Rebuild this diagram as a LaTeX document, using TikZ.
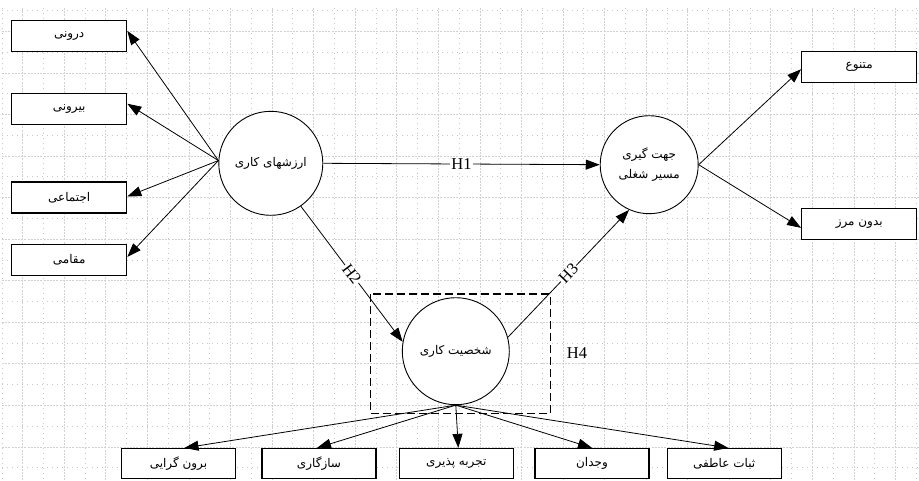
\documentclass[tikz,border=0pt]{standalone}
\usepackage{fontspec}
\setmainfont{Liberation Serif}
\newfontfamily\fa[Script=Arabic]{DejaVu Sans}
\TeXXeTstate=1
\usetikzlibrary{arrows.meta,calc}
\tikzset{
  gmaj/.style={draw=black!18, line width=0.7pt, dash pattern=on 2pt off 1.2pt},
  gmin/.style={draw=black!22, line width=0.7pt, dash pattern=on 1pt off 4pt},
  box/.style={draw, line width=1.2pt, fill=white, minimum width=115pt, minimum height=31pt, inner sep=0pt, font=\fa\fontsize{12}{14}\selectfont},
  bbox/.style={box, minimum width=114pt, minimum height=30pt},
  circ/.style={draw, circle, line width=0.9pt, fill=white, inner sep=0pt, align=center, font=\fa\fontsize{12}{20}\selectfont},
  arr/.style={-{Triangle[length=14pt,width=10pt]}, line width=0.8pt},
  hlab/.style={fill=white, inner sep=1pt, font=\fontsize{16.5}{18}\selectfont},
  hbox/.style={draw, line width=1.2pt, dash pattern=on 8pt off 4pt},
}
\begin{document}
\begin{tikzpicture}[x=1pt,y=-1pt]
\useasboundingbox (0,0) rectangle (919,480);
% grid
\foreach \k in {0,...,21} \draw[gmaj] ({22.7+41.56*\k},8) -- ({22.7+41.56*\k},480);
\foreach \k in {0,...,22} \draw[gmin] ({1.9+41.56*\k},8) -- ({1.9+41.56*\k},480);
\foreach \k in {0,...,10} \draw[gmaj] (2,{31.3+41.56*\k}) -- (919,{31.3+41.56*\k});
\foreach \k in {0,...,11} \draw[gmin] (2,{10.5+41.56*\k}) -- (919,{10.5+41.56*\k});
% dashed H4 box
\draw[hbox] (370.7,294) rectangle (550.7,413.3);
% boxes
\node[box] (b1) at (69.2,36) {\beginR درونی\endR};
\node[box] (b2) at (69.2,108.8) {\beginR بیرونی\endR};
\node[box] (b3) at (69.2,197.5) {\beginR اجتماعی\endR};
\node[box] (b4) at (69.2,260) {\beginR مقامی\endR};
\node[box] (r1) at (859.2,67.2) {\beginR متنوع\endR};
\node[box] (r2) at (859.2,223.8) {\beginR بدون مرز\endR};
\node[bbox] (d1) at (178.5,463.5) {\beginR برون گرایی\endR};
\node[bbox] (d2) at (319,463.5) {\beginR سازگاری\endR};
\node[bbox] (d3) at (456.3,463.5) {\beginR تجربه پذیری\endR};
\node[bbox] (d4) at (592,463.5) {\beginR وجدان\endR};
\node[bbox] (d5) at (724.2,463.5) {\beginR ثبات عاطفی\endR};
% circles
\node[circ, minimum size=104pt] (c1) at (270.8,163.3) {\beginR ارزشهای کاری\endR};
\node[circ, minimum size=98pt] (c2) at (649.2,164.7) {\beginR جهت گیری\endR\\\beginR مسیر شغلی\endR};
\node[circ, minimum size=107pt] (c3) at (455.8,351.2) {\beginR شخصیت کاری\endR};
\node[font=\fontsize{16.5}{18}\selectfont] (h4) at (577,352.7) {H4};
% arrows
\draw[arr] (c1.177) -- (b1.5);
\draw[arr] (c1.177) -- (b2.5);
\draw[arr] (c1.177) -- (b3.1);
\draw[arr] (c1.177) -- (b4.3);
\draw[arr] (c2.east) -- (r1.182);
\draw[arr] (c2.east) -- (r2.184);
\draw[arr] (c1.east) -- node[hlab]{H1} (c2.west);
\draw[arr] (c1.-55) -- node[hlab, sloped]{H2} (c3.170);
\draw[arr] (c3.15) -- node[hlab, sloped]{H3} (c2.246);
\draw[arr] (c3.south) -- ($(d1.north)+(6,0)$);
\draw[arr] (c3.south) -- ($(d2.north)+(-2,0)$);
\draw[arr] (c3.south) -- ($(d3.north)+(2,0)$);
\draw[arr] (c3.south) -- (d4.north);
\draw[arr] (c3.south) -- ($(d5.north)+(4,0)$);
\end{tikzpicture}
\end{document}
